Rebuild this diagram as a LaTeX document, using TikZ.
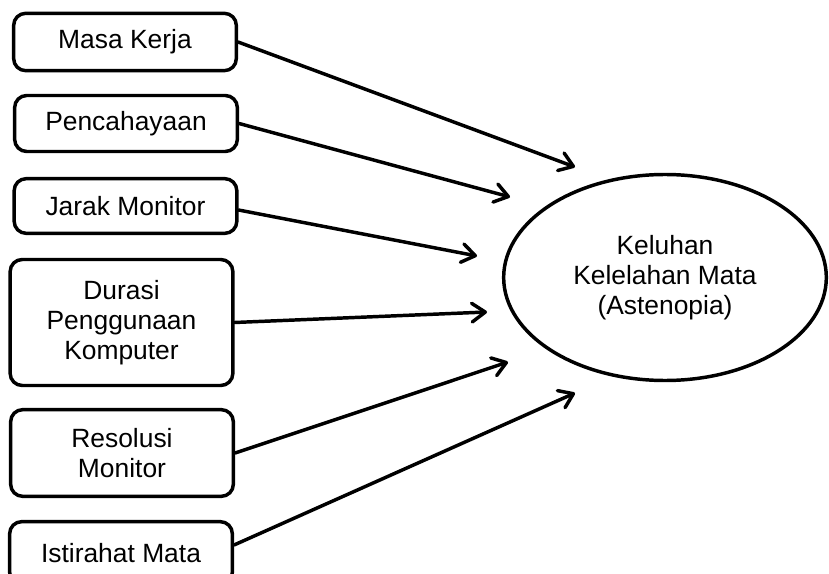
\documentclass[tikz,border=0pt]{standalone}
\usepackage{fontspec}
\setmainfont{Liberation Sans}
\usetikzlibrary{arrows.meta,shapes.geometric}

\tikzset{
  factor/.style={draw, line width=2.6pt, rounded corners=9pt, align=center,
    minimum width=167pt, font=\fontsize{19.8}{22.5}\selectfont},
  outcome/.style={draw, ellipse, line width=2.6pt, align=center,
    minimum width=242pt, minimum height=154.5pt, font=\fontsize{19.8}{22.5}\selectfont},
  link/.style={line width=2.6pt, line cap=round,
    -{Straight Barb[length=10pt,width=14pt,line cap=round,line join=round]}}
}

\begin{document}
\begin{tikzpicture}[x=0.75pt, y=-0.75pt]
\useasboundingbox (0,0) rectangle (829,574);

%% factors
\node[factor, minimum height=43pt] (masa) at (125,42) {Masa Kerja};
\node[factor, minimum height=42pt] (cahaya) at (126,123.5) {Pencahayaan};
\node[factor, minimum height=41pt] (jarak) at (125.5,206) {Jarak Monitor};
\node[factor, minimum height=94.5pt] (durasi) at (121.5,322.5) {Durasi\\Penggunaan\\Komputer};
\node[factor, minimum height=65pt] (resolusi) at (122,453) {Resolusi\\Monitor};
\node[factor, minimum height=47pt] (istirahat) at (121,553) {Istirahat Mata};

%% outcome
\node[outcome] (keluhan) at (665,277.5) {Keluhan\\Kelelahan Mata\\(Astenopia)};

%% arrow tips
\coordinate (t1) at (575,167);
\coordinate (t2) at (510,197);
\coordinate (t3) at (477,256);
\coordinate (t4) at (487,312);
\coordinate (t5) at (508,362);
\coordinate (t6) at (575,393);

%% arrows
\draw[link] (masa.east) -- (t1);
\draw[link] (cahaya.east) -- (t2);
\draw[link] ([yshift=-3pt]jarak.east) -- (t3);
\draw[link] (durasi.east) -- (t4);
\draw[link] (resolusi.east) -- (t5);
\draw[link] ([yshift=6pt]istirahat.east) -- (t6);
\end{tikzpicture}
\end{document}
